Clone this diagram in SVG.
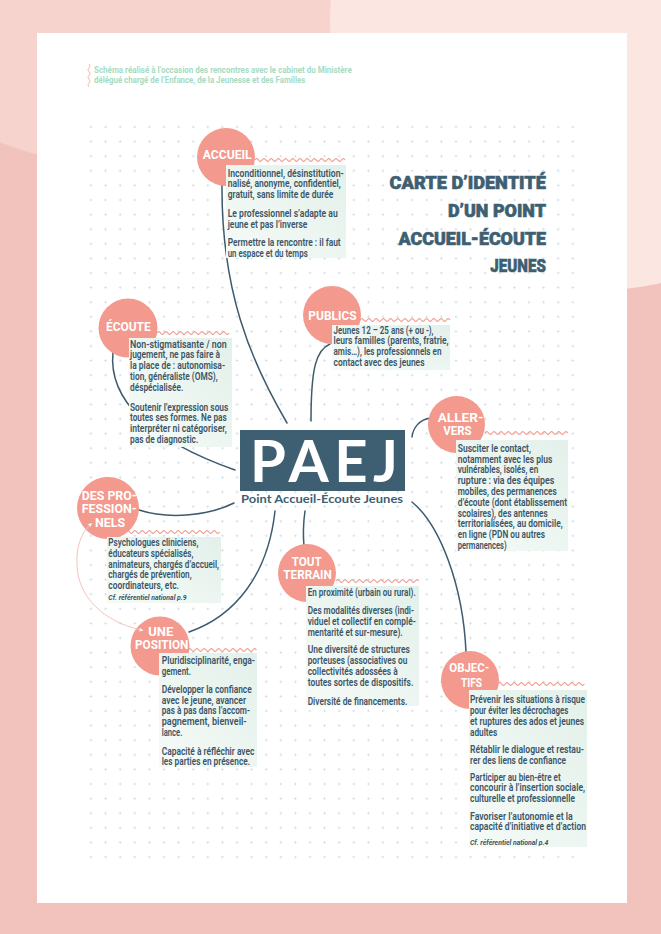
<svg xmlns="http://www.w3.org/2000/svg" width="661" height="934" viewBox="0 0 661 934">
<defs>
<style>
.t{font-family:Roboto,"Liberation Sans",sans-serif;font-size:10px;font-weight:600;fill:#3b5567}
.ref{font-family:Roboto,"Liberation Sans",sans-serif;font-size:8px;font-weight:700;font-style:italic;fill:#3b5567}
.lab{font-family:Roboto,"Liberation Sans",sans-serif;font-size:12.5px;font-weight:700;fill:#ffffff}
.ttl{font-family:Roboto,"Liberation Sans",sans-serif;font-size:18px;font-weight:900;fill:#3e5f72;stroke:#3e5f72;stroke-width:0.6}
.hdr{font-family:Roboto,"Liberation Sans",sans-serif;font-size:8.8px;font-weight:700;fill:#a6dbc2}
.circ{fill:#f3998d}
.wave{fill:none;stroke:#f3998d;stroke-width:1.1}
.box{fill:url(#boxg)}
.con{fill:none;stroke:#3e5b6d;stroke-width:1.5;stroke-linecap:round}
</style>
<linearGradient id="boxg" x1="1" y1="0" x2="0" y2="1">
<stop offset="0" stop-color="#e3f0ea"/>
<stop offset="1" stop-color="#f6fbf8"/>
</linearGradient>
<pattern id="grid" patternUnits="userSpaceOnUse" x="83.7" y="119.7" width="14.6" height="14.6">
<path d="M6 7.3h2.6M7.3 6v2.6" stroke="#cadce5" stroke-width="0.8"/>
</pattern>
<marker id="ah" viewBox="0 0 10 10" refX="6" refY="5" markerWidth="5" markerHeight="5" orient="auto">
<path d="M0 1L9 5L0 9L2.5 5Z" fill="#ffffff"/>
</marker>
<marker id="ahs" viewBox="0 0 10 10" refX="4" refY="5" markerWidth="5" markerHeight="5" orient="auto-start-reverse">
<path d="M0 1L9 5L0 9L2.5 5Z" fill="#ffffff"/>
</marker>
</defs>

<!-- background -->
<rect x="0" y="0" width="661" height="934" fill="#f2c3bd"/>
<circle cx="150" cy="-250" r="420" fill="#f7d3ce"/>
<circle cx="600" cy="20" r="270" fill="#fce6e2"/>
<rect x="37" y="33" width="590" height="870" fill="#ffffff"/>
<rect x="84" y="120" width="497" height="745" fill="url(#grid)"/>

<!-- header -->
<g id="header">
<path d="M89 64q2.2 2 0 3.8t0 3.8t0 3.8t0 3.8t0 3.8t0 3.8" fill="none" stroke="#f4aea3" stroke-width="0.9"/>
<text class="hdr" x="94" y="72.7" textLength="257.7" lengthAdjust="spacingAndGlyphs">Schéma réalisé à l’occasion des rencontres avec le cabinet du Ministère</text>
<text class="hdr" x="94" y="83.3" textLength="211.3" lengthAdjust="spacingAndGlyphs">délégué chargé de l’Enfance, de la Jeunesse et des Familles</text>
</g>

<!-- title -->
<g id="title">
<text class="ttl" x="546" y="189" text-anchor="end" textLength="156.4" lengthAdjust="spacingAndGlyphs">CARTE D’IDENTITÉ</text>
<text class="ttl" x="546" y="217" text-anchor="end" textLength="98" lengthAdjust="spacingAndGlyphs">D’UN POINT</text>
<text class="ttl" x="546" y="245" text-anchor="end" textLength="147.4" lengthAdjust="spacingAndGlyphs">ACCUEIL-ÉCOUTE</text>
<text class="ttl" x="546" y="272" text-anchor="end" textLength="55.7" lengthAdjust="spacingAndGlyphs">JEUNES</text>
</g>

<!-- connectors -->
<g id="connectors">
<path class="con" d="M222 183C221 290 250 360 287 423"/>
<path class="con" d="M113 352C108 400 150 440 235 470"/>
<path class="con" d="M330 344C316 350 311 368 311 421"/>
<path class="con" d="M430 418C419 420 413 428 412 437"/>
<path class="con" d="M139 510C170 520 210 515 234 503"/>
<path class="con" d="M189 632C235 616 268 575 275 511"/>
<path class="con" d="M305 511C303 525 303 535 304 546"/>
<path class="con" d="M412 502C440 525 463 585 466 652"/>
</g>

<!-- center -->
<g id="paej">
<rect x="240" y="430" width="165" height="61" fill="#3e5f72"/>
<text x="250" y="481.7" textLength="148" lengthAdjust="spacing" style="font-family:Lato,'Open Sans',sans-serif;font-size:58px;font-weight:700;fill:#ffffff">PAEJ</text>
<text x="241" y="503" textLength="162" lengthAdjust="spacingAndGlyphs" style="font-family:Lato,'Open Sans',sans-serif;font-size:10.5px;font-weight:700;fill:#3e5f72">Point Accueil-Écoute Jeunes</text>
</g>

<!-- ACCUEIL -->
<g id="accueil">
<path class="wave" d="M255 160q1.8 -2.8 3.6 0t3.6 0t3.6 0t3.6 0t3.6 0t3.6 0t3.6 0t3.6 0t3.6 0t3.6 0t3.6 0t3.6 0t3.6 0t3.6 0t3.6 0t3.6 0t3.6 0t3.6 0t3.6 0t3.6 0t3.6 0t3.6 0t3.6 0t3.6 0t3.6 0"/>
<circle class="circ" cx="226" cy="157" r="29"/>
<rect class="box" x="226" y="165" width="120" height="93"/>
<text class="lab" x="202.7" y="159" textLength="49" lengthAdjust="spacingAndGlyphs">ACCUEIL</text>
<text class="t" x="227.7" y="176.5" textLength="116" lengthAdjust="spacingAndGlyphs">Inconditionnel, désinstitution-</text>
<text class="t" x="227.7" y="187.4" textLength="113" lengthAdjust="spacingAndGlyphs">nalisé, anonyme, confidentiel,</text>
<text class="t" x="227.7" y="198.3" textLength="105.7" lengthAdjust="spacingAndGlyphs">gratuit, sans limite de durée</text>
<text class="t" x="227.7" y="216.7" textLength="110" lengthAdjust="spacingAndGlyphs">Le professionnel s’adapte au</text>
<text class="t" x="227.7" y="227.5" textLength="79.7" lengthAdjust="spacingAndGlyphs">jeune et pas l’inverse</text>
<text class="t" x="227.7" y="245.7" textLength="113" lengthAdjust="spacingAndGlyphs">Permettre la rencontre : il faut</text>
<text class="t" x="227.7" y="256.5" textLength="80" lengthAdjust="spacingAndGlyphs">un espace et du temps</text>
</g>

<!-- ECOUTE -->
<g id="ecoute">
<path class="wave" d="M157 333q1.8 -2.8 3.6 0t3.6 0t3.6 0t3.6 0t3.6 0t3.6 0t3.6 0t3.6 0t3.6 0t3.6 0t3.6 0t3.6 0t3.6 0t3.6 0t3.6 0t3.6 0t3.6 0t3.6 0t3.6 0t3.6 0"/>
<circle class="circ" cx="128" cy="328" r="29.5"/>
<rect class="box" x="129" y="338" width="103" height="109"/>
<text class="lab" x="106" y="331" textLength="44.7" lengthAdjust="spacingAndGlyphs">ÉCOUTE</text>
<text class="t" x="130" y="347.5" textLength="96.7" lengthAdjust="spacingAndGlyphs">Non-stigmatisante / non</text>
<text class="t" x="130" y="358.3" textLength="90" lengthAdjust="spacingAndGlyphs">jugement, ne pas faire à</text>
<text class="t" x="130" y="369.1" textLength="95" lengthAdjust="spacingAndGlyphs">la place de : autonomisa-</text>
<text class="t" x="130" y="379.9" textLength="87.7" lengthAdjust="spacingAndGlyphs">tion, généraliste (OMS),</text>
<text class="t" x="130" y="390.7" textLength="53.3" lengthAdjust="spacingAndGlyphs">déspécialisée.</text>
<text class="t" x="130" y="410.5" textLength="98.3" lengthAdjust="spacingAndGlyphs">Soutenir l’expression sous</text>
<text class="t" x="130" y="421.3" textLength="96.7" lengthAdjust="spacingAndGlyphs">toutes ses formes. Ne pas</text>
<text class="t" x="130" y="432.1" textLength="96.7" lengthAdjust="spacingAndGlyphs">interpréter ni catégoriser,</text>
<text class="t" x="130" y="442.9" textLength="68.3" lengthAdjust="spacingAndGlyphs">pas de diagnostic.</text>
</g>

<!-- PUBLICS -->
<g id="publics">
<path class="wave" d="M360 320q1.8 -2.8 3.6 0t3.6 0t3.6 0t3.6 0t3.6 0t3.6 0t3.6 0t3.6 0t3.6 0t3.6 0t3.6 0t3.6 0t3.6 0t3.6 0t3.6 0t3.6 0t3.6 0t3.6 0t3.6 0t3.6 0t3.6 0t3.6 0t3.6 0t3.6 0t3.6 0"/>
<circle class="circ" cx="332" cy="315" r="29"/>
<rect class="box" x="332" y="325" width="118" height="45"/>
<text class="lab" x="308.3" y="320" textLength="48.4" lengthAdjust="spacingAndGlyphs">PUBLICS</text>
<text class="t" x="333.5" y="333.5" textLength="100" lengthAdjust="spacingAndGlyphs">Jeunes 12 – 25 ans (+ ou -),</text>
<text class="t" x="333.5" y="344.4" textLength="115" lengthAdjust="spacingAndGlyphs">leurs familles (parents, fratrie,</text>
<text class="t" x="333.5" y="355.2" textLength="108" lengthAdjust="spacingAndGlyphs">amis…), les professionnels en</text>
<text class="t" x="333.5" y="366" textLength="91" lengthAdjust="spacingAndGlyphs">contact avec des jeunes</text>
</g>

<!-- ALLER-VERS -->
<g id="aller-vers">
<path class="wave" d="M485 433q1.8 -2.8 3.6 0t3.6 0t3.6 0t3.6 0t3.6 0t3.6 0t3.6 0t3.6 0t3.6 0t3.6 0t3.6 0t3.6 0t3.6 0t3.6 0t3.6 0t3.6 0t3.6 0t3.6 0t3.6 0t3.6 0t3.6 0t3.6 0t3.6 0"/>
<circle class="circ" cx="456.5" cy="424.5" r="28.5"/>
<rect class="box" x="456" y="440" width="112" height="111"/>
<text class="lab" x="437.7" y="421.7" textLength="45.6" lengthAdjust="spacingAndGlyphs">ALLER-</text>
<text class="lab" x="443.3" y="435" textLength="28.4" lengthAdjust="spacingAndGlyphs">VERS</text>
<text class="t" x="457.7" y="451.7" textLength="73.3" lengthAdjust="spacingAndGlyphs">Susciter le contact,</text>
<text class="t" x="457.7" y="462.5" textLength="94.6" lengthAdjust="spacingAndGlyphs">notamment avec les plus</text>
<text class="t" x="457.7" y="473.3" textLength="80.6" lengthAdjust="spacingAndGlyphs">vulnérables, isolés, en</text>
<text class="t" x="457.7" y="484.1" textLength="96.6" lengthAdjust="spacingAndGlyphs">rupture  : via des équipes</text>
<text class="t" x="457.7" y="494.9" textLength="99" lengthAdjust="spacingAndGlyphs">mobiles, des permanences</text>
<text class="t" x="457.7" y="505.7" textLength="109.3" lengthAdjust="spacingAndGlyphs">d’écoute (dont établissement</text>
<text class="t" x="457.7" y="516.5" textLength="90" lengthAdjust="spacingAndGlyphs">scolaires), des antennes</text>
<text class="t" x="457.7" y="527.3" textLength="105" lengthAdjust="spacingAndGlyphs">territorialisées, au domicile,</text>
<text class="t" x="457.7" y="538.1" textLength="87.3" lengthAdjust="spacingAndGlyphs">en ligne (PDN ou autres</text>
<text class="t" x="457.7" y="548.9" textLength="49" lengthAdjust="spacingAndGlyphs">permanences)</text>
</g>

<!-- DES PROFESSIONNELS -->
<g id="professionnels">
<path class="wave" d="M126 532q1.8 -2.8 3.6 0t3.6 0t3.6 0t3.6 0t3.6 0t3.6 0t3.6 0t3.6 0t3.6 0t3.6 0t3.6 0t3.6 0t3.6 0t3.6 0t3.6 0t3.6 0t3.6 0t3.6 0t3.6 0t3.6 0t3.6 0t3.6 0t3.6 0t3.6 0t3.6 0t3.6 0"/>
<circle class="circ" cx="108" cy="508" r="31"/>
<rect class="box" x="107" y="537" width="114" height="66"/>
<text class="lab" x="81.7" y="500" textLength="55" lengthAdjust="spacingAndGlyphs">DES PRO-</text>
<text class="lab" x="81.7" y="513.3" textLength="55" lengthAdjust="spacingAndGlyphs">FESSION-</text>
<text class="lab" x="95" y="527.3" textLength="30" lengthAdjust="spacingAndGlyphs">NELS</text>
<text class="t" x="108.3" y="546" textLength="90" lengthAdjust="spacingAndGlyphs">Psychologues cliniciens,</text>
<text class="t" x="108.3" y="556.8" textLength="85" lengthAdjust="spacingAndGlyphs">éducateurs spécialisés,</text>
<text class="t" x="108.3" y="567.6" textLength="110.7" lengthAdjust="spacingAndGlyphs">animateurs, chargés d’accueil,</text>
<text class="t" x="108.3" y="578.4" textLength="83.3" lengthAdjust="spacingAndGlyphs">chargés de prévention,</text>
<text class="t" x="108.3" y="589.2" textLength="70.7" lengthAdjust="spacingAndGlyphs">coordinateurs, etc.</text>
<text class="ref" x="108.3" y="599.5" textLength="78.3" lengthAdjust="spacingAndGlyphs">Cf. référentiel national p.9</text>
</g>

<!-- UNE POSITION -->
<g id="position">
<path class="wave" d="M188 650q1.8 -2.8 3.6 0t3.6 0t3.6 0t3.6 0t3.6 0t3.6 0t3.6 0t3.6 0t3.6 0t3.6 0t3.6 0t3.6 0t3.6 0t3.6 0t3.6 0t3.6 0t3.6 0t3.6 0t3.6 0"/>
<circle class="circ" cx="160" cy="646" r="29.5"/>
<rect class="box" x="159" y="653" width="98" height="114"/>
<text class="lab" x="148.3" y="635.5" textLength="25" lengthAdjust="spacingAndGlyphs">UNE</text>
<text class="lab" x="135" y="649" textLength="53.3" lengthAdjust="spacingAndGlyphs">POSITION</text>
<text class="t" x="161.7" y="664" textLength="93.3" lengthAdjust="spacingAndGlyphs">Pluridisciplinarité, enga-</text>
<text class="t" x="161.7" y="674.8" textLength="29.3" lengthAdjust="spacingAndGlyphs">gement.</text>
<text class="t" x="161.7" y="692.8" textLength="90" lengthAdjust="spacingAndGlyphs">Développer la confiance</text>
<text class="t" x="161.7" y="703.6" textLength="84.3" lengthAdjust="spacingAndGlyphs">avec le jeune, avancer</text>
<text class="t" x="161.7" y="714.4" textLength="88.3" lengthAdjust="spacingAndGlyphs">pas à pas dans l’accom-</text>
<text class="t" x="161.7" y="725.2" textLength="85" lengthAdjust="spacingAndGlyphs">pagnement, bienveil-</text>
<text class="t" x="161.7" y="736" textLength="20.7" lengthAdjust="spacingAndGlyphs">lance.</text>
<text class="t" x="161.7" y="754.6" textLength="92.7" lengthAdjust="spacingAndGlyphs">Capacité à réfléchir avec</text>
<text class="t" x="161.7" y="765.4" textLength="88.3" lengthAdjust="spacingAndGlyphs">les parties en présence.</text>
</g>

<!-- TOUT TERRAIN -->
<g id="terrain">
<path class="wave" d="M336 581q1.8 -2.8 3.6 0t3.6 0t3.6 0t3.6 0t3.6 0t3.6 0t3.6 0t3.6 0t3.6 0t3.6 0t3.6 0t3.6 0t3.6 0t3.6 0t3.6 0t3.6 0t3.6 0t3.6 0t3.6 0t3.6 0t3.6 0t3.6 0t3.6 0"/>
<circle class="circ" cx="307" cy="573" r="29"/>
<rect class="box" x="306" y="586" width="113" height="120"/>
<text class="lab" x="291.7" y="566" textLength="30" lengthAdjust="spacingAndGlyphs">TOUT</text>
<text class="lab" x="283.3" y="579.3" textLength="48.4" lengthAdjust="spacingAndGlyphs">TERRAIN</text>
<text class="t" x="307.7" y="596" textLength="108" lengthAdjust="spacingAndGlyphs">En proximité (urbain ou rural).</text>
<text class="t" x="307.7" y="614" textLength="106.3" lengthAdjust="spacingAndGlyphs">Des modalités diverses (indi-</text>
<text class="t" x="307.7" y="624.8" textLength="108" lengthAdjust="spacingAndGlyphs">viduel et collectif en complé-</text>
<text class="t" x="307.7" y="635.6" textLength="95" lengthAdjust="spacingAndGlyphs">mentarité et sur-mesure).</text>
<text class="t" x="307.7" y="653.4" textLength="102.3" lengthAdjust="spacingAndGlyphs">Une diversité de structures</text>
<text class="t" x="307.7" y="664.2" textLength="99.6" lengthAdjust="spacingAndGlyphs">porteuses (associatives ou</text>
<text class="t" x="307.7" y="675" textLength="90" lengthAdjust="spacingAndGlyphs">collectivités adossées à</text>
<text class="t" x="307.7" y="685.8" textLength="105.6" lengthAdjust="spacingAndGlyphs">toutes sortes de dispositifs.</text>
<text class="t" x="307.7" y="705" textLength="99.6" lengthAdjust="spacingAndGlyphs">Diversité de financements.</text>
</g>

<!-- OBJECTIFS -->
<g id="objectifs">
<path class="wave" d="M498 684q1.8 -2.8 3.6 0t3.6 0t3.6 0t3.6 0t3.6 0t3.6 0t3.6 0t3.6 0t3.6 0t3.6 0t3.6 0t3.6 0t3.6 0t3.6 0t3.6 0t3.6 0t3.6 0t3.6 0t3.6 0t3.6 0t3.6 0t3.6 0t3.6 0t3.6 0"/>
<circle class="circ" cx="470" cy="680" r="29"/>
<rect class="box" x="469" y="690" width="118" height="157"/>
<text class="lab" x="449.3" y="671.7" textLength="40" lengthAdjust="spacingAndGlyphs">OBJEC-</text>
<text class="lab" x="461" y="686.7" textLength="21" lengthAdjust="spacingAndGlyphs">TIFS</text>
<text class="t" x="470" y="703.3" textLength="115" lengthAdjust="spacingAndGlyphs">Prévenir les situations à risque</text>
<text class="t" x="470" y="714.1" textLength="98.3" lengthAdjust="spacingAndGlyphs">pour éviter les décrochages</text>
<text class="t" x="470" y="724.9" textLength="114" lengthAdjust="spacingAndGlyphs">et ruptures des ados et jeunes</text>
<text class="t" x="470" y="735.7" textLength="27.3" lengthAdjust="spacingAndGlyphs">adultes</text>
<text class="t" x="470" y="752.8" textLength="114" lengthAdjust="spacingAndGlyphs">Rétablir le dialogue et restau-</text>
<text class="t" x="470" y="763.6" textLength="96" lengthAdjust="spacingAndGlyphs">rer des liens de confiance</text>
<text class="t" x="470" y="780.6" textLength="90.7" lengthAdjust="spacingAndGlyphs">Participer au bien-être et</text>
<text class="t" x="470" y="791.4" textLength="115" lengthAdjust="spacingAndGlyphs">concourir à l’insertion sociale,</text>
<text class="t" x="470" y="802.2" textLength="105" lengthAdjust="spacingAndGlyphs">culturelle et professionnelle</text>
<text class="t" x="470" y="819.6" textLength="102.7" lengthAdjust="spacingAndGlyphs">Favoriser l’autonomie et la</text>
<text class="t" x="470" y="830.4" textLength="116" lengthAdjust="spacingAndGlyphs">capacité d’initiative et d’action</text>
<text class="ref" x="470" y="845" textLength="78.3" lengthAdjust="spacingAndGlyphs">Cf. référentiel national p.4</text>
</g>

<!-- light arrow between UNE POSITION and DES PROFESSIONNELS -->
<g id="link-arrow">
<path d="M141 630C105 622 78 598 77 565C76 545 82 532 91 524" fill="none" stroke="#f6c3bb" stroke-width="1" marker-start="url(#ahs)" marker-end="url(#ah)"/>
</g>
</svg>
